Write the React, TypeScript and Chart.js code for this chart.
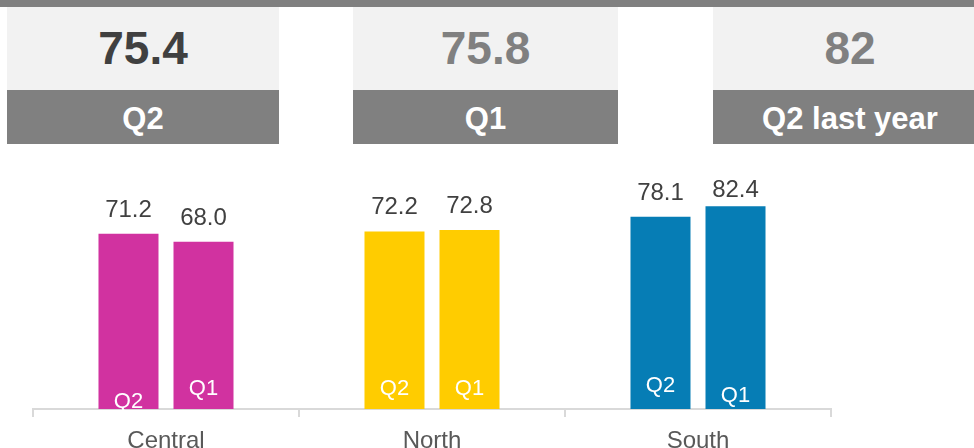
import React, { useEffect, useRef } from "react";
import { Chart, registerables } from "chart.js";

Chart.register(...registerables);

const categories = ["Central", "North", "South"];
const seriesLabels = ["Q2", "Q1"];
const q2Values = [71.2, 72.2, 78.1];
const q1Values = [68.0, 72.8, 82.4];
const regionColors = ["#D132A0", "#FFCC00", "#067DB5"];
const kpiValues = ["75.4", "75.8", "82"];
const kpiLabels = ["Q2", "Q1", "Q2 last year"];
const yMin = 0;
const yMax = 100;

const FONT = '"Liberation Sans", Arial, sans-serif';

// baseline lift of the in-bar series labels above the bar base, per dataset/category
const innerLabelLift = [
  [1, 14, 17.5],
  [14, 14, 7],
];

const kpiBoxes = [
  { left: 7, width: 272, color: "#404040" },
  { left: 353, width: 265, color: "#808080" },
  { left: 713, width: 274, color: "#808080" },
];

const labelPlugin = {
  id: "barLabels",
  afterDatasetsDraw(chart: any) {
    const ctx = chart.ctx;
    const top = chart.chartArea.top;
    ctx.save();
    chart.data.datasets.forEach((ds: any, di: number) => {
      const meta = chart.getDatasetMeta(di);
      meta.data.forEach((bar: any, i: number) => {
        const v = ds.data[i];
        ctx.textAlign = "center";
        ctx.textBaseline = "alphabetic";
        ctx.fillStyle = "#404040";
        ctx.font = `24px ${FONT}`;
        const by = Math.max(bar.y - 17, top + 34);
        ctx.fillText(v.toFixed(1), bar.x, by);
        ctx.fillStyle = "#FFFFFF";
        ctx.font = `22px ${FONT}`;
        ctx.fillText(seriesLabels[di], bar.x, bar.base - innerLabelLift[di][i]);
      });
    });
    ctx.restore();
  },
};

export default function App() {
  const ref = useRef<HTMLCanvasElement | null>(null);

  useEffect(() => {
    if (!ref.current) return;
    const chart = new Chart(ref.current, {
      type: "bar",
      data: {
        labels: categories,
        datasets: [
          { label: seriesLabels[0], data: q2Values, backgroundColor: regionColors },
          { label: seriesLabels[1], data: q1Values, backgroundColor: regionColors },
        ],
      },
      options: {
        animation: false,
        responsive: false,
        maintainAspectRatio: false,
        devicePixelRatio: 1,
        layout: { padding: { left: 33, right: 143, top: 163, bottom: 0 } },
        plugins: {
          legend: { display: false },
          tooltip: { enabled: false },
          title: { display: false },
        },
        datasets: {
          bar: { categoryPercentage: 0.564, barPercentage: 0.8 },
        },
        scales: {
          x: {
            offset: true,
            grid: {
              display: true,
              drawOnChartArea: false,
              drawTicks: true,
              tickLength: 8,
              color: "#D9D9D9",
              lineWidth: 2,
              offset: true,
            },
            border: { display: true, color: "#D9D9D9", width: 2 },
            ticks: {
              color: "#595959",
              font: { family: FONT, size: 24 },
              padding: 10,
              maxRotation: 0,
            },
            afterFit(scale: any) {
              scale.height = 39;
            },
          },
          y: {
            display: false,
            min: yMin,
            max: yMax,
          },
        },
      },
      plugins: [labelPlugin],
    } as any);
    return () => chart.destroy();
  }, []);

  return (
    <div
      style={{
        position: "fixed",
        left: 0,
        top: 0,
        width: 974,
        height: 448,
        overflow: "hidden",
        background: "#FFFFFF",
        fontFamily: FONT,
      }}
    >
      <div style={{ position: "absolute", left: 0, top: 0, width: 974, height: 7, background: "#808080" }} />
      {kpiBoxes.map((b, i) => (
        <div key={i} style={{ position: "absolute", left: b.left, top: 7, width: b.width }}>
          <div
            style={{
              height: 83,
              lineHeight: "83px",
              background: "#F2F2F2",
              color: b.color,
              fontWeight: "bold",
              fontSize: 46,
              textAlign: "center",
            }}
          >
            {kpiValues[i]}
          </div>
          <div
            style={{
              height: 54,
              lineHeight: "58px",
              background: "#808080",
              color: "#FFFFFF",
              fontWeight: "bold",
              fontSize: 31,
              textAlign: "center",
              overflow: "hidden",
            }}
          >
            {kpiLabels[i]}
          </div>
        </div>
      ))}
      <canvas
        ref={ref}
        width={974}
        height={448}
        style={{ position: "absolute", left: 0, top: 0, width: 974, height: 448 }}
      />
    </div>
  );
}
